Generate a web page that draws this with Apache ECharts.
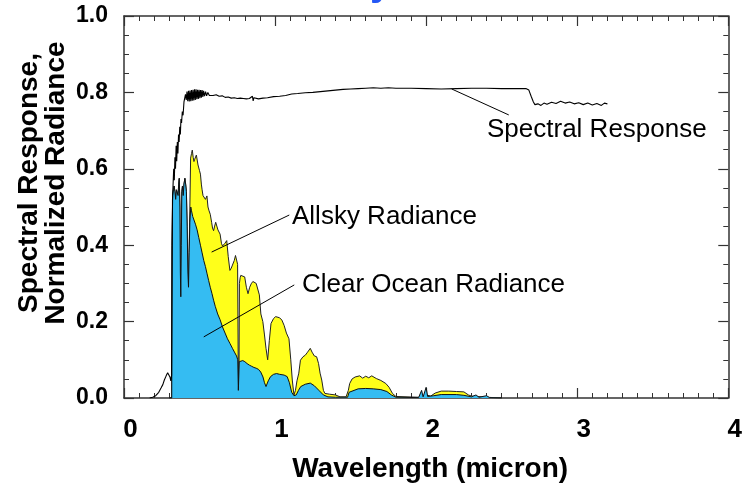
<!DOCTYPE html>
<html>
<head>
<meta charset="utf-8">
<script src="https://cdn.jsdelivr.net/npm/echarts@6/dist/echarts.min.js"></script>
<style>
  html, body { margin: 0; padding: 0; background: #fff; }
  #chart { width: 745px; height: 488px; }
</style>
</head>
<body>
<div id="chart"></div>
<script>
// wavelength (micron) , value
const xTicks = ['0', '1', '2', '3', '4'];

const spectralResponse = [
  [0.17,0],[0.19,0.002],[0.21,0.006],[0.23,0.015],[0.245,0.026],[0.257,0.035],[0.267,0.047],
  [0.279,0.058],[0.289,0.066],[0.297,0.062],[0.304,0.055],[0.31,0.045],[0.315,0.06],[0.318,0.3],
  [0.321,0.52],[0.325,0.56],[0.329,0.6],[0.333,0.57],[0.337,0.63],[0.341,0.6],[0.345,0.66],
  [0.349,0.62],[0.353,0.67],[0.357,0.64],[0.361,0.69],[0.365,0.67],[0.369,0.71],[0.373,0.69],
  [0.377,0.73],[0.381,0.72],[0.386,0.75],[0.391,0.74],[0.397,0.775],[0.402,0.77],[0.407,0.795],
  [0.412,0.78],[0.417,0.802],[0.422,0.777],[0.427,0.804],[0.432,0.776],[0.437,0.805],[0.442,0.777],
  [0.447,0.806],[0.452,0.778],[0.457,0.807],[0.462,0.779],[0.467,0.808],[0.472,0.78],[0.477,0.808],
  [0.482,0.782],[0.487,0.807],[0.492,0.783],[0.497,0.807],[0.502,0.785],[0.507,0.806],[0.512,0.786],
  [0.517,0.806],[0.522,0.788],[0.527,0.804],[0.533,0.79],[0.54,0.802],[0.547,0.791],[0.555,0.8],
  [0.565,0.792],[0.575,0.797],[0.59,0.792],[0.61,0.794],[0.63,0.79],[0.65,0.791],[0.67,0.787],
  [0.69,0.788],[0.71,0.785],[0.73,0.786],[0.75,0.784],[0.77,0.785],[0.79,0.784],[0.81,0.783],
  [0.83,0.784],[0.85,0.79],[0.855,0.778],[0.86,0.786],[0.87,0.782],[0.89,0.783],[0.92,0.785],
  [0.95,0.786],[0.99,0.789],[1.03,0.79],[1.07,0.792],[1.11,0.796],[1.15,0.797],[1.2,0.799],
  [1.25,0.8],[1.3,0.802],[1.35,0.804],[1.4,0.806],[1.45,0.808],[1.5,0.809],[1.55,0.81],[1.6,0.811],
  [1.65,0.812],[1.7,0.811],[1.75,0.812],[1.8,0.811],[1.9,0.811],[2.0,0.81],[2.1,0.809],[2.2,0.81],
  [2.3,0.811],[2.4,0.811],[2.5,0.81],[2.6,0.81],[2.66,0.81],[2.68,0.806],[2.695,0.79],[2.71,0.775],
  [2.72,0.768],[2.74,0.77],[2.76,0.766],[2.78,0.772],[2.8,0.769],[2.83,0.774],[2.86,0.771],
  [2.89,0.777],[2.92,0.772],[2.95,0.775],[2.98,0.77],[3.01,0.773],[3.04,0.768],[3.07,0.772],
  [3.1,0.767],[3.13,0.771],[3.16,0.766],[3.18,0.772],[3.2,0.77]
];

const clearOcean = [
  [0.3,0],[0.316,0],[0.318,0.4],[0.322,0.53],[0.327,0.545],[0.332,0.555],[0.337,0.54],[0.342,0.52],
  [0.347,0.545],[0.353,0.55],[0.358,0.53],[0.362,0.56],[0.366,0.575],[0.37,0.5],[0.373,0.33],
  [0.376,0.265],[0.379,0.4],[0.383,0.54],[0.387,0.555],[0.392,0.53],[0.397,0.56],[0.403,0.575],
  [0.408,0.56],[0.413,0.54],[0.418,0.45],[0.423,0.33],[0.427,0.29],[0.431,0.38],[0.436,0.46],
  [0.442,0.5],[0.447,0.49],[0.455,0.475],[0.463,0.47],[0.473,0.455],[0.484,0.44],[0.495,0.42],
  [0.506,0.4],[0.517,0.38],[0.528,0.36],[0.539,0.344],[0.55,0.325],[0.56,0.308],[0.571,0.29],
  [0.582,0.274],[0.593,0.256],[0.604,0.24],[0.62,0.22],[0.636,0.205],[0.652,0.186],[0.669,0.17],
  [0.685,0.155],[0.701,0.143],[0.718,0.13],[0.734,0.118],[0.745,0.11],[0.753,0.1],[0.757,0.02],
  [0.76,0.015],[0.763,0.095],[0.772,0.1],[0.786,0.098],[0.8,0.095],[0.815,0.09],[0.83,0.086],
  [0.845,0.083],[0.86,0.08],[0.875,0.078],[0.89,0.075],[0.905,0.068],[0.92,0.055],[0.93,0.04],
  [0.94,0.03],[0.955,0.045],[0.97,0.056],[0.99,0.062],[1.01,0.064],[1.03,0.062],[1.06,0.06],
  [1.08,0.056],[1.095,0.04],[1.11,0.015],[1.125,0.006],[1.14,0.008],[1.155,0.02],[1.17,0.03],
  [1.2,0.036],[1.233,0.039],[1.26,0.032],[1.29,0.02],[1.32,0.008],[1.35,0.003],[1.4,0.002],
  [1.48,0.002],[1.49,0.015],[1.5,0.02],[1.55,0.024],[1.6,0.025],[1.65,0.024],[1.7,0.022],
  [1.74,0.017],[1.77,0.008],[1.8,0.002],[1.95,0.001],[1.97,0.02],[1.98,0.003],[2.0,0.028],
  [2.01,0.004],[2.05,0.006],[2.1,0.009],[2.2,0.009],[2.25,0.007],[2.3,0.003],[2.33,0.008],
  [2.35,0.002],[2.4,0.006],[2.42,0.001],[2.5,0]
];

// allsky follows the clear ocean curve up to ~0.43 micron
const allskyTail = [
  [0.436,0.5],[0.441,0.628],[0.447,0.64],[0.452,0.649],[0.458,0.63],[0.463,0.619],[0.468,0.625],
  [0.473,0.628],[0.479,0.636],[0.484,0.632],[0.49,0.61],[0.495,0.61],[0.5,0.595],[0.506,0.586],
  [0.512,0.56],[0.517,0.545],[0.523,0.53],[0.528,0.525],[0.534,0.53],[0.539,0.52],[0.549,0.529],
  [0.556,0.5],[0.563,0.49],[0.571,0.481],[0.58,0.46],[0.586,0.445],[0.593,0.438],[0.6,0.45],
  [0.607,0.46],[0.614,0.455],[0.622,0.44],[0.629,0.435],[0.636,0.429],[0.645,0.405],[0.652,0.398],
  [0.658,0.394],[0.668,0.405],[0.676,0.41],[0.68,0.412],[0.69,0.37],[0.701,0.334],[0.71,0.34],
  [0.718,0.348],[0.723,0.351],[0.73,0.36],[0.738,0.373],[0.745,0.37],[0.752,0.35],[0.756,0.1],
  [0.759,0.03],[0.761,0.05],[0.764,0.3],[0.769,0.315],[0.773,0.321],[0.785,0.318],[0.799,0.317],
  [0.81,0.29],[0.821,0.273],[0.832,0.29],[0.842,0.299],[0.853,0.305],[0.864,0.308],[0.875,0.3],
  [0.886,0.299],[0.896,0.27],[0.906,0.22],[0.919,0.2],[0.93,0.165],[0.94,0.13],[0.951,0.1],
  [0.962,0.15],[0.973,0.195],[0.99,0.208],[1.004,0.213],[1.016,0.213],[1.03,0.21],[1.045,0.204],
  [1.06,0.19],[1.075,0.17],[1.092,0.155],[1.104,0.1],[1.114,0.047],[1.125,0.008],[1.135,0.02],
  [1.145,0.045],[1.157,0.065],[1.168,0.099],[1.185,0.108],[1.2,0.112],[1.215,0.12],[1.233,0.13],
  [1.245,0.12],[1.26,0.11],[1.275,0.108],[1.288,0.09],[1.298,0.065],[1.309,0.047],[1.32,0.02],
  [1.33,0.012],[1.36,0.01],[1.4,0.008],[1.43,0.003],[1.47,0.003],[1.485,0.02],[1.494,0.038],
  [1.51,0.05],[1.53,0.055],[1.56,0.058],[1.58,0.052],[1.6,0.057],[1.62,0.053],[1.64,0.058],
  [1.67,0.051],[1.7,0.046],[1.733,0.038],[1.755,0.028],[1.777,0.012],[1.8,0.004],[1.95,0.002],
  [2.0,0.008],[2.03,0.005],[2.06,0.013],[2.1,0.018],[2.15,0.018],[2.2,0.017],[2.25,0.016],
  [2.28,0.008],[2.3,0.005],[2.4,0.002],[2.5,0]
];
const allsky = clearOcean.filter(p => p[0] < 0.434).concat(allskyTail);

// pointer lines for the labels, in data coordinates
const pointers = [
  [[2.169, 0.809], [2.547, 0.741]],
  [[0.580, 0.382], [1.094, 0.479]],
  [[0.528, 0.160], [1.127, 0.296]]
];

const font = 'Liberation Sans, Arial, Helvetica, sans-serif';
const frame = '#333';

function axisBase(pos) {
  return {
    type: 'value',
    position: pos,
    axisLine: { show: true, onZero: false, lineStyle: { color: frame, width: 1.5 } },
    axisTick: { show: true, inside: true, length: 10, lineStyle: { color: frame, width: 1.2 } },
    minorTick: { show: true, length: 5, lineStyle: { color: frame, width: 1 } },
    splitLine: { show: false },
    minorSplitLine: { show: false }
  };
}

const xBottom = Object.assign(axisBase('bottom'), {
  min: 0, max: 4, interval: 1,
  axisLabel: {
    color: '#000', fontFamily: font, fontWeight: 'bold', fontSize: 26, margin: 19,
    padding: [0, 0, 0, 13], showMinLabel: true, showMaxLabel: true,
    formatter: v => xTicks[Math.round(v)]
  },
  name: 'Wavelength (micron)', nameLocation: 'middle', nameGap: 57,
  nameTextStyle: { color: '#000', fontFamily: font, fontWeight: 'bold', fontSize: 28, padding: [0, 0, 0, 8] }
});
xBottom.minorTick.splitNumber = 10;

const xTop = Object.assign(axisBase('top'), { min: 0, max: 4, interval: 1, axisLabel: { show: false } });
xTop.minorTick.splitNumber = 10;

const yLeft = Object.assign(axisBase('left'), {
  min: 0, max: 1, interval: 0.2,
  axisLabel: {
    color: '#000', fontFamily: font, fontWeight: 'bold', fontSize: 23, margin: 16,
    padding: [6, 0, 0, 0], showMinLabel: true, showMaxLabel: true,
    formatter: v => v.toFixed(1)
  }
});
yLeft.minorTick.splitNumber = 4;

const yRight = Object.assign(axisBase('right'), { min: 0, max: 1, interval: 0.2, axisLabel: { show: false } });
yRight.minorTick.splitNumber = 4;

const chart = echarts.init(document.getElementById('chart'), null, { renderer: 'canvas' });

chart.setOption({
  animation: false,
  backgroundColor: '#fff',
  grid: { left: 124, right: 7, top: 16, bottom: 90, containLabel: false },
  xAxis: [xBottom, xTop],
  yAxis: [yLeft, yRight],
  series: [
    {
      name: 'Allsky Radiance', type: 'line', data: allsky,
      showSymbol: false, symbol: 'none', z: 2,
      lineStyle: { color: '#222', width: 1 },
      areaStyle: { color: '#ffff1a', opacity: 1 }
    },
    {
      name: 'Clear Ocean Radiance', type: 'line', data: clearOcean,
      showSymbol: false, symbol: 'none', z: 3,
      lineStyle: { color: '#111', width: 1 },
      areaStyle: { color: '#35bcf2', opacity: 1 }
    },
    {
      name: 'Spectral Response', type: 'line', data: spectralResponse,
      showSymbol: false, symbol: 'none', z: 4,
      lineStyle: { color: '#000', width: 1.1 },
      markLine: {
        silent: true, symbol: 'none', animation: false,
        label: { show: false },
        lineStyle: { color: '#000', width: 1, type: 'solid' },
        data: pointers.map(p => [{ coord: p[0] }, { coord: p[1] }])
      }
    }
  ],
  graphic: [
    {
      type: 'text', x: 487, y: 130,
      style: { text: 'Spectral Response', fill: '#000', font: '26px ' + font, textVerticalAlign: 'middle' }
    },
    {
      type: 'text', x: 292, y: 217,
      style: { text: 'Allsky Radiance', fill: '#000', font: '26px ' + font, textVerticalAlign: 'middle' }
    },
    {
      type: 'text', x: 302, y: 285,
      style: { text: 'Clear Ocean Radiance', fill: '#000', font: '26px ' + font, textVerticalAlign: 'middle' }
    },
    {
      type: 'text', x: 43, y: 183, rotation: Math.PI / 2,
      style: {
        text: 'Spectral Response,\nNormalized Radiance', fill: '#000',
        font: 'bold 28px ' + font, textAlign: 'center', textVerticalAlign: 'middle', lineHeight: 27
      }
    },
    {
      // tail of the cut-off heading above the chart
      type: 'text', x: 381, y: 4,
      style: { text: 'y', fill: '#2457f5', font: 'bold 40px ' + font, textAlign: 'center', textVerticalAlign: 'bottom' }
    }
  ]
});
</script>
</body>
</html>
